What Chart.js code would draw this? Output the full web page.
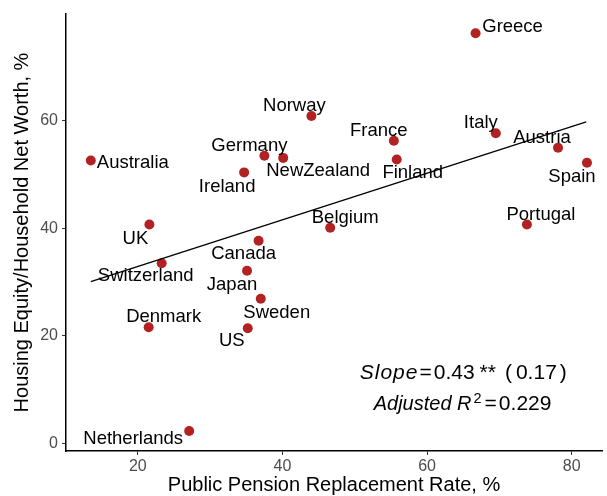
<!DOCTYPE html>
<html>
<head>
<meta charset="utf-8">
<script src="https://cdn.jsdelivr.net/npm/chart.js@4"></script>
<style>
  body { margin: 0; background: #fff; }
  #c { display: block; }
</style>
</head>
<body>
<canvas id="c" width="607" height="496"></canvas>
<script>
// data
var countries = ['Greece', 'Australia', 'UK', 'Switzerland', 'Denmark', 'Netherlands',
  'Norway', 'France', 'Germany', 'NewZealand', 'Finland', 'Ireland', 'Belgium',
  'Canada', 'Japan', 'Sweden', 'US', 'Italy', 'Austria', 'Spain', 'Portugal'];
var pensionRate = [66.7, 13.5, 21.6, 23.3, 21.5, 27.1,
  44.0, 55.4, 37.5, 40.1, 55.8, 34.7, 46.6,
  36.7, 35.1, 37.0, 35.2, 69.5, 78.1, 82.1, 73.8];
var housingShare = [76.3, 52.6, 40.7, 33.5, 21.6, 2.3,
  60.9, 56.3, 53.5, 53.1, 52.8, 50.4, 40.1,
  37.7, 32.1, 26.9, 21.4, 57.7, 55.0, 52.2, 40.7];
var fitX = [13.5, 82.0];
var fitY = [30.1, 59.8];
var xTicks = [20, 40, 60, 80];
var yTicks = [0, 20, 40, 60];

// label nudges in pixels (dx, dy)
var labelOffsets = [[37, -6], [42, 2], [-14, 14], [-16, 13], [15, -10], [-56, 8],
  [-17, -10], [-15, -10], [-15, -10], [35, 13], [16, 13], [-17, 15], [15, -10],
  [-15, 13], [-15, 14], [16, 14], [-16, 13], [-15, -10], [-16, -10], [-15, 14], [14, -10]];

var FONT = '"Liberation Sans", Arial, Helvetica, sans-serif';

var labelPlugin = {
  id: 'labels',
  afterDatasetsDraw: function (chart) {
    var ctx = chart.ctx, sx = chart.scales.x, sy = chart.scales.y;
    ctx.save();
    ctx.fillStyle = '#000';
    ctx.textAlign = 'center';
    ctx.textBaseline = 'middle';
    ctx.font = '18.5px ' + FONT;
    countries.forEach(function (c, i) {
      var px = sx.getPixelForValue(pensionRate[i]) + labelOffsets[i][0];
      var py = sy.getPixelForValue(housingShare[i]) + labelOffsets[i][1];
      ctx.fillText(c, px, py);
    });

    // regression stats, drawn piece by piece (italic + superscript)
    function drawPieces(pieces, cx, cy) {
      ctx.textAlign = 'left';
      var total = 0;
      pieces.forEach(function (p) {
        ctx.font = p.font;
        ctx.letterSpacing = p.ls || '0px';
        p.w = ctx.measureText(p.t).width;
        total += p.w + (p.gap || 0);
      });
      var x = cx - total / 2;
      pieces.forEach(function (p) {
        x += p.gap || 0;
        ctx.font = p.font;
        ctx.letterSpacing = p.ls || '0px';
        ctx.fillText(p.t, x, cy + (p.dy || 0));
        x += p.w;
      });
      ctx.letterSpacing = '0px';
    }
    var norm = '21px ' + FONT, ital = 'italic 21px ' + FONT;
    drawPieces([
      { t: 'Slope', font: ital, ls: '1px' },
      { t: '=', font: norm, gap: 1 },
      { t: '0.43', font: norm, gap: 2 },
      { t: '**', font: norm, gap: 5 },
      { t: '(', font: norm, gap: 9 },
      { t: '0.17', font: norm, gap: 4 },
      { t: ')', font: norm, gap: 3 }
    ], sx.getPixelForValue(65.0), sy.getPixelForValue(13.0));
    drawPieces([
      { t: 'Adjusted R', font: 'italic 20px ' + FONT },
      { t: '2', font: '14.5px ' + FONT, dy: -6, gap: 2 },
      { t: '=', font: norm, gap: 3 },
      { t: '0.229', font: norm, gap: 2 }
    ], sx.getPixelForValue(64.9), sy.getPixelForValue(7.2));
    ctx.restore();
  }
};

new Chart(document.getElementById('c'), {
  type: 'scatter',
  data: {
    datasets: [{
      type: 'line',
      data: fitX.map(function (x, i) { return { x: x, y: fitY[i] }; }),
      borderColor: '#000',
      borderWidth: 1.3,
      pointRadius: 0,
      fill: false
    }, {
      data: pensionRate.map(function (x, i) { return { x: x, y: housingShare[i] }; }),
      backgroundColor: '#B22222',
      borderColor: '#B22222',
      pointRadius: 5,
      borderWidth: 0
    }]
  },
  options: {
    responsive: false,
    animation: false,
    layout: { padding: { left: 0, right: 4, top: 14, bottom: 0 } },
    plugins: { legend: { display: false }, tooltip: { enabled: false } },
    scales: {
      x: {
        type: 'linear',
        min: 10.07,
        max: 84.18,
        afterBuildTicks: function (s) { s.ticks = xTicks.map(function (v) { return { value: v }; }); },
        afterFit: function (s) { s.height = 45; },
        ticks: { color: '#4D4D4D', font: { family: FONT, size: 16 }, padding: 2, maxRotation: 0 },
        grid: { drawOnChartArea: false, drawTicks: true, tickLength: 4, color: '#333' },
        border: { display: true, color: '#000', width: 1.5 },
        title: {
          display: true, text: 'Public Pension Replacement Rate, %', color: '#000',
          font: { family: FONT, size: 20 }, padding: { top: 0, bottom: -1 }
        }
      },
      y: {
        type: 'linear',
        min: -1.43,
        max: 79.87,
        afterBuildTicks: function (s) { s.ticks = yTicks.map(function (v) { return { value: v }; }); },
        afterFit: function (s) { s.width = 66; },
        ticks: { color: '#4D4D4D', font: { family: FONT, size: 16 }, padding: 4 },
        grid: { drawOnChartArea: false, drawTicks: true, tickLength: 4, color: '#333' },
        border: { display: true, color: '#000', width: 1.5 },
        title: {
          display: true, text: 'Housing Equity/Household Net Worth, %', color: '#000',
          font: { family: FONT, size: 20 }, padding: { top: 10, bottom: 0 }
        }
      }
    }
  },
  plugins: [labelPlugin]
});
</script>
</body>
</html>
